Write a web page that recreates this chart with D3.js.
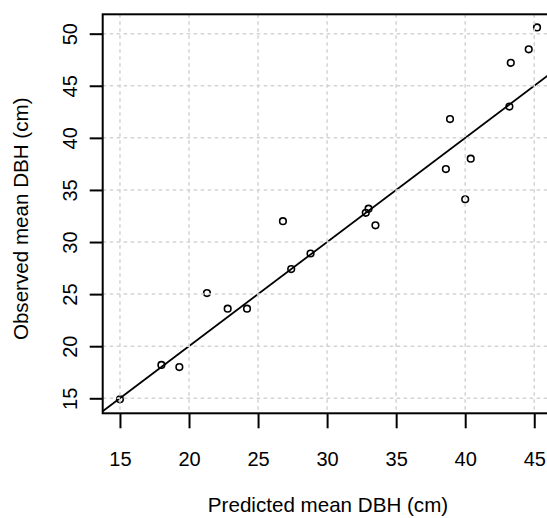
<!DOCTYPE html>
<html>
<head>
<meta charset="utf-8">
<script src="https://cdn.jsdelivr.net/npm/d3@7"></script>
<style>
  body { margin: 0; background: #fff; }
  text { font-family: "Liberation Sans", Arial, sans-serif; fill: #000; }
</style>
</head>
<body>
<div id="chart"></div>
<script>
// predicted vs observed mean DBH (cm), one point per plot
const predicted = [15.0, 18.0, 19.3, 21.3, 22.8, 24.2, 26.8, 27.4, 28.8, 32.8,
                   33.0, 33.5, 38.6, 38.9, 40.0, 40.4, 43.2, 43.3, 44.6, 45.2];
const observed  = [14.9, 18.2, 18.0, 25.1, 23.6, 23.6, 32.0, 27.4, 28.9, 32.8,
                   33.2, 31.6, 37.0, 41.8, 34.1, 38.0, 43.0, 47.2, 48.5, 50.6];
const xTicks = [15, 20, 25, 30, 35, 40, 45];
const yTicks = [15, 20, 25, 30, 35, 40, 45, 50];
const xDomain = [13.75, 46.43];
const yDomain = [13.56, 51.86];

const width = 547, height = 518;
const pLeft = 102.7, pTop = 14.3, pBottom = 413.3, pRight = 554;

const svg = d3.select('#chart').append('svg')
  .attr('width', width)
  .attr('height', height);

const x = d3.scaleLinear().domain(xDomain).range([pLeft, pRight]);
const y = d3.scaleLinear().domain(yDomain).range([pBottom, pTop]);

svg.append('clipPath').attr('id', 'plotclip')
  .append('rect')
  .attr('x', pLeft).attr('y', pTop)
  .attr('width', pRight - pLeft).attr('height', pBottom - pTop);

const plot = svg.append('g').attr('clip-path', 'url(#plotclip)');

// 1:1 line
plot.append('line')
  .attr('x1', x(xDomain[0])).attr('y1', y(xDomain[0]))
  .attr('x2', x(xDomain[1])).attr('y2', y(xDomain[1]))
  .attr('stroke', '#000')
  .attr('stroke-width', 1.8);

plot.selectAll('.pt')
  .data(d3.zip(predicted, observed))
  .enter().append('circle')
  .attr('class', 'pt')
  .attr('cx', d => x(d[0]))
  .attr('cy', d => y(d[1]))
  .attr('r', 3.3)
  .attr('fill', 'none')
  .attr('stroke', '#000')
  .attr('stroke-width', 1.6);

// grid sits on top, like R's grid() after plotting
plot.selectAll('.vgrid')
  .data(xTicks)
  .enter().append('line')
  .attr('x1', d => x(d)).attr('x2', d => x(d))
  .attr('y1', pTop).attr('y2', pBottom)
  .attr('stroke', '#d3d3d3')
  .attr('stroke-width', 1.5)
  .attr('stroke-dasharray', '3.5,3.5');

plot.selectAll('.hgrid')
  .data(yTicks)
  .enter().append('line')
  .attr('y1', d => y(d)).attr('y2', d => y(d))
  .attr('x1', pLeft).attr('x2', pRight)
  .attr('stroke', '#d3d3d3')
  .attr('stroke-width', 1.5)
  .attr('stroke-dasharray', '3.5,3.5');

// box
svg.append('rect')
  .attr('x', pLeft).attr('y', pTop)
  .attr('width', pRight - pLeft).attr('height', pBottom - pTop)
  .attr('fill', 'none')
  .attr('stroke', '#000')
  .attr('stroke-width', 2);

// axes
const xAxis = svg.append('g')
  .attr('transform', `translate(0,${pBottom})`)
  .call(d3.axisBottom(x).tickValues(xTicks).tickSize(15).tickFormat(d3.format('d')));
xAxis.select('.domain').remove();
xAxis.selectAll('line').attr('stroke-width', 2);
xAxis.selectAll('text').attr('font-size', 20).attr('font-family', null)
  .attr('dy', null).attr('y', 52.5);

const yAxis = svg.append('g')
  .attr('transform', `translate(${pLeft},0)`)
  .call(d3.axisLeft(y).tickValues(yTicks).tickSize(13).tickFormat(d3.format('d')));
yAxis.select('.domain').remove();
yAxis.selectAll('line').attr('stroke-width', 2);
yAxis.selectAll('text')
  .attr('font-size', 20).attr('font-family', null)
  .attr('x', null).attr('dy', null)
  .attr('text-anchor', 'middle')
  .attr('transform', 'translate(-25.5,0) rotate(-90)');

// titles
svg.append('text')
  .attr('x', 328)
  .attr('y', 512)
  .attr('text-anchor', 'middle')
  .attr('font-size', 20.6)
  .text('Predicted mean DBH (cm)');

svg.append('text')
  .attr('transform', `translate(28,${(pTop + pBottom) / 2 + 5}) rotate(-90)`)
  .attr('text-anchor', 'middle')
  .attr('font-size', 20.6)
  .text('Observed mean DBH (cm)');
</script>
</body>
</html>
